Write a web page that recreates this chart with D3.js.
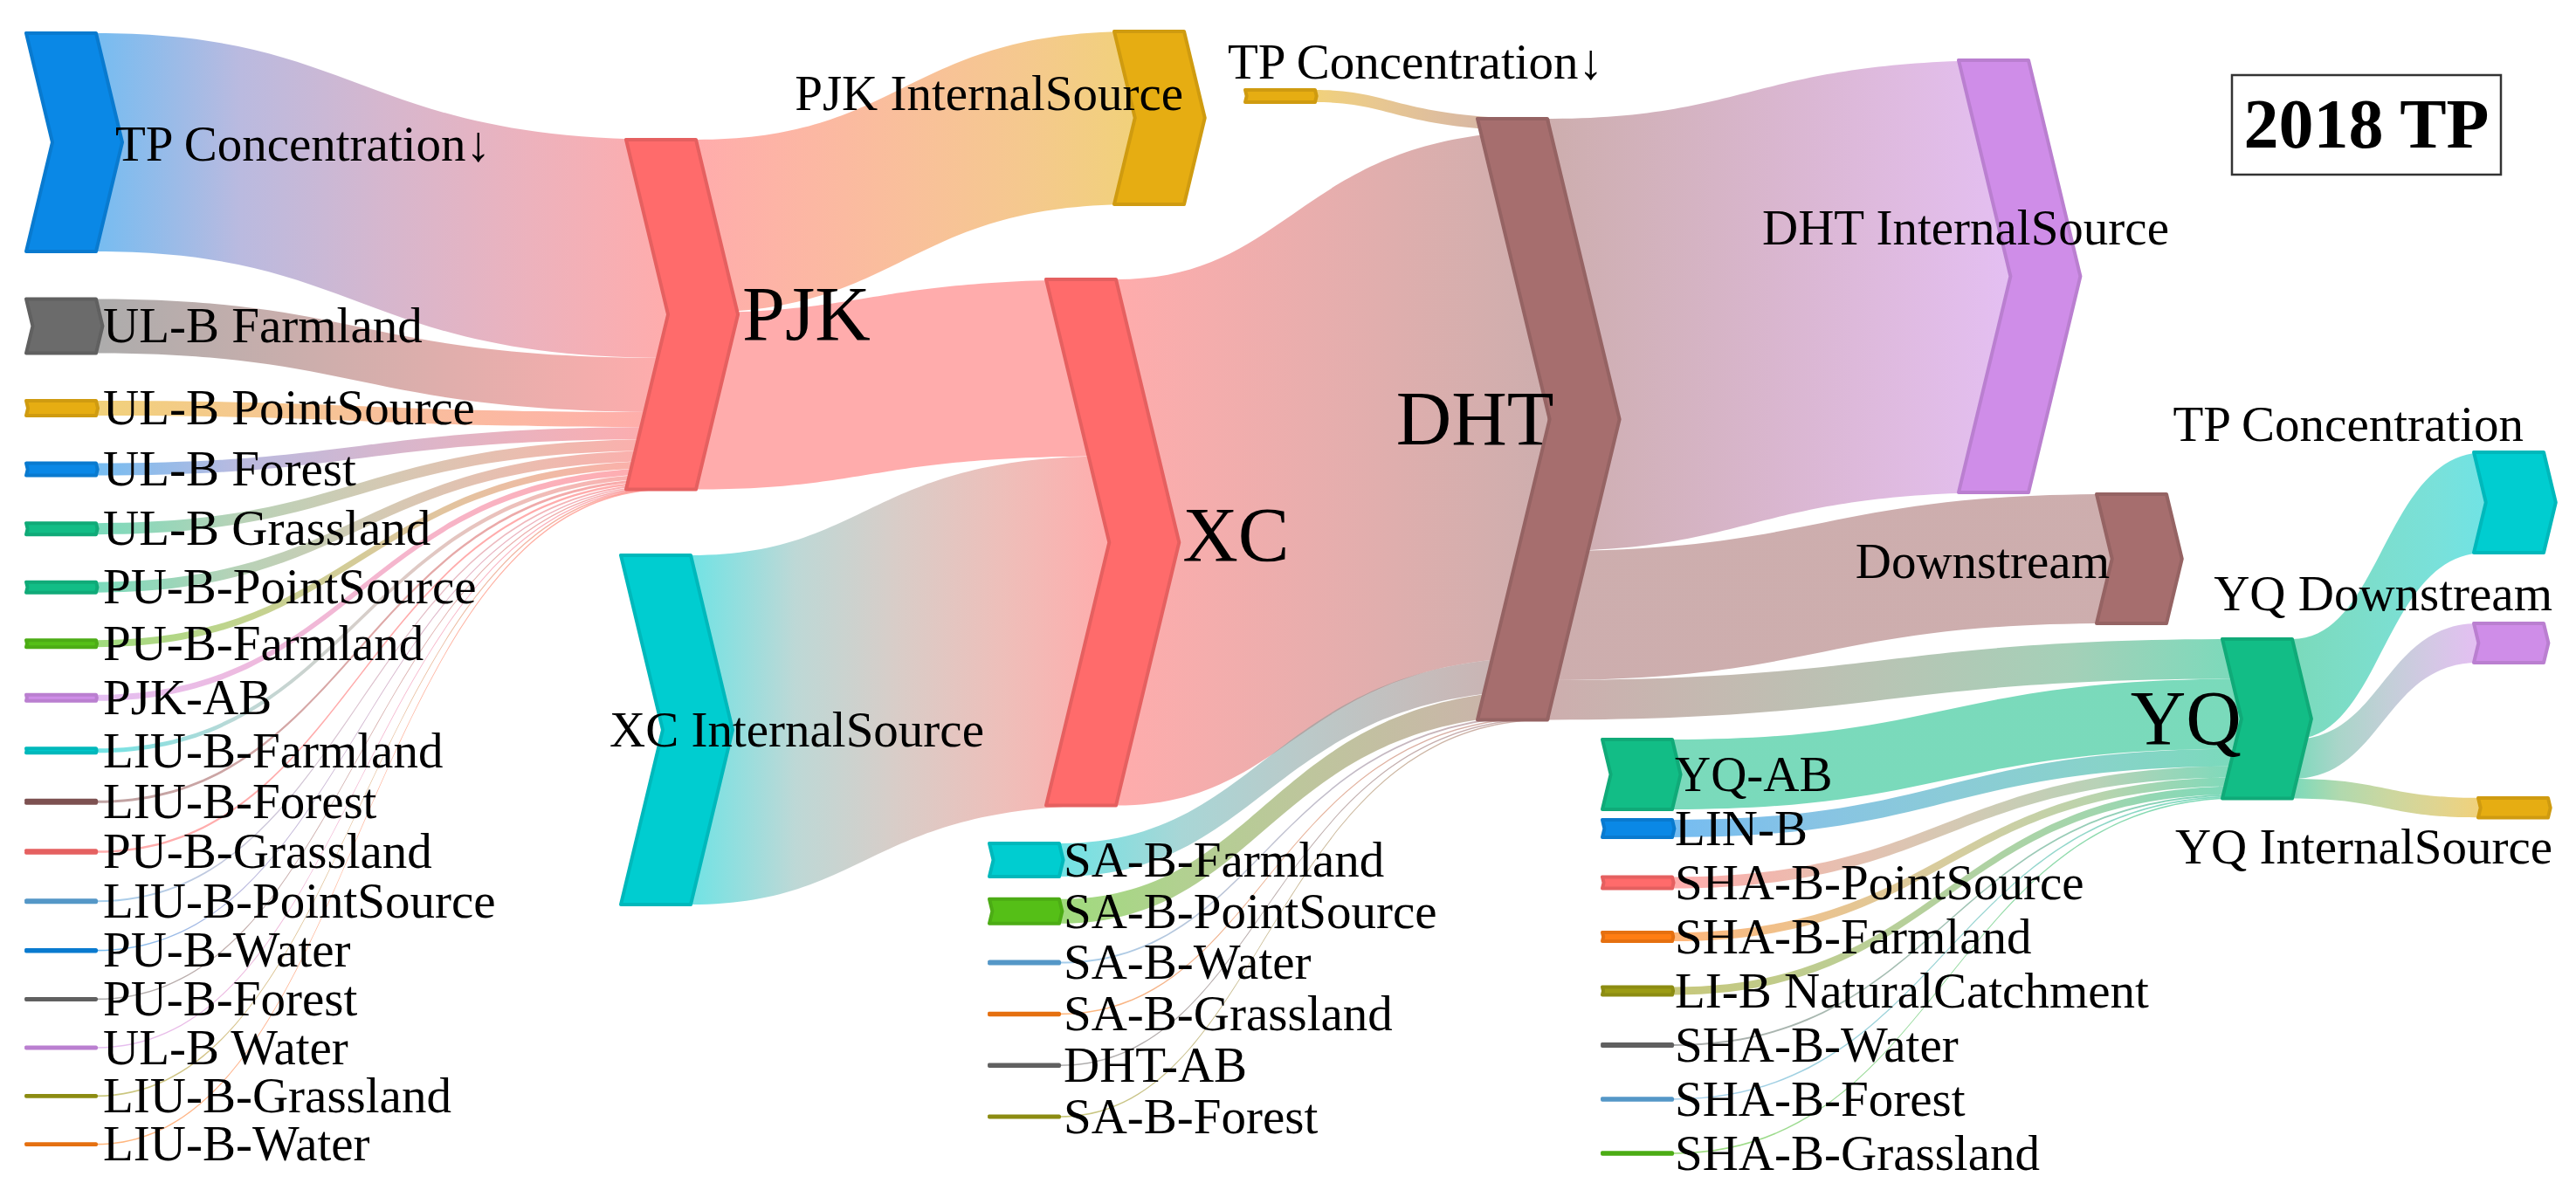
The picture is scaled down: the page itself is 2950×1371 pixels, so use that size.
<!DOCTYPE html>
<html><head><meta charset="utf-8">
<script src="https://cdn.jsdelivr.net/npm/d3@7"></script>
<style>html,body{margin:0;padding:0;background:#fff;} svg{display:block;}</style>
</head><body><svg id="chart" width="2950" height="1371"></svg>
<script>
// ---------------- DATA ----------------
const nodeIds = [
  "TPC_in","ULB_Farmland","ULB_PointSource","ULB_Forest","ULB_Grassland","PUB_PointSource","PUB_Farmland","PJK_AB",
  "LIUB_Farmland","LIUB_Forest","PUB_Grassland","LIUB_PointSource","PUB_Water","PUB_Forest","ULB_Water","LIUB_Grassland","LIUB_Water",
  "PJK","PJK_IS","XC_IS","XC","TPC_dht",
  "SAB_Farmland","SAB_PointSource","SAB_Water","SAB_Grassland","DHT_AB","SAB_Forest",
  "DHT","DHT_IS","Downstream",
  "YQ_AB","LIN_B","SHAB_PointSource","SHAB_Farmland","LIB_Natural","SHAB_Water","SHAB_Forest","SHAB_Grassland",
  "YQ","TPC_out","YQ_DS","YQ_IS"
];
const nodeLabels = [
  "TP Concentration↓","UL-B Farmland","UL-B PointSource","UL-B Forest","UL-B Grassland","PU-B-PointSource","PU-B-Farmland","PJK-AB",
  "LIU-B-Farmland","LIU-B-Forest","PU-B-Grassland","LIU-B-PointSource","PU-B-Water","PU-B-Forest","UL-B Water","LIU-B-Grassland","LIU-B-Water",
  "PJK","PJK InternalSource","XC InternalSource","XC","TP Concentration↓",
  "SA-B-Farmland","SA-B-PointSource","SA-B-Water","SA-B-Grassland","DHT-AB","SA-B-Forest",
  "DHT","DHT InternalSource","Downstream",
  "YQ-AB","LIN-B","SHA-B-PointSource","SHA-B-Farmland","LI-B NaturalCatchment","SHA-B-Water","SHA-B-Forest","SHA-B-Grassland",
  "YQ","TP Concentration","YQ Downstream","YQ InternalSource"
];
const linkSources = [
  "TPC_in","ULB_Farmland","ULB_PointSource","ULB_Forest","ULB_Grassland","PUB_PointSource","PUB_Farmland","PJK_AB",
  "LIUB_Farmland","LIUB_Forest","PUB_Grassland","LIUB_PointSource","PUB_Water","PUB_Forest","ULB_Water","LIUB_Grassland","LIUB_Water",
  "PJK","PJK","XC_IS",
  "TPC_dht","XC","SAB_Farmland","SAB_PointSource","SAB_Water","SAB_Grassland","DHT_AB","SAB_Forest",
  "DHT","DHT","DHT",
  "YQ_AB","LIN_B","SHAB_PointSource","SHAB_Farmland","LIB_Natural","SHAB_Water","SHAB_Forest","SHAB_Grassland",
  "YQ","YQ","YQ"
];
const linkTargets = [
  "PJK","PJK","PJK","PJK","PJK","PJK","PJK","PJK",
  "PJK","PJK","PJK","PJK","PJK","PJK","PJK","PJK","PJK",
  "PJK_IS","XC","XC",
  "DHT","DHT","DHT","DHT","DHT","DHT","DHT","DHT",
  "DHT_IS","Downstream","YQ",
  "YQ","YQ","YQ","YQ","YQ","YQ","YQ","YQ",
  "TPC_out","YQ_DS","YQ_IS"
];
const linkValues = [
  250, 62, 17, 14, 13, 12, 8, 7,
  5, 3, 2.5, 2, 1.5, 1, 1, 0.8, 0.7,
  198, 202.5, 400,
  14, 602.5, 38, 28, 2, 1.5, 1.5, 1,
  495, 148, 45.5,
  80, 20, 13, 10, 9, 2, 1.5, 1.5,
  115, 45, 22.5
];

// ---------------- STYLE / LAYOUT ----------------
const PAL = {blue:"#0a88e6", gray:"#6b6b6b", gold:"#e6ad12", green:"#12bd86", lime:"#55bf17", purple:"#cf8de8",
  cyan:"#00cdd0", brown:"#8b5a5a", dhtBrown:"#a66e6e", red:"#ff6b6b", lightblue:"#5ea8de", olive:"#9c9c14", orange:"#ff7d12"};
const nodeColorKeys = [
  "blue","gray","gold","blue","green","green","lime","purple",
  "cyan","brown","red","lightblue","blue","gray","purple","olive","orange",
  "red","gold","cyan","red","gold",
  "cyan","lime","lightblue","orange","gray","olive",
  "dhtBrown","purple","dhtBrown",
  "green","blue","red","orange","olive","gray","lightblue","lime",
  "green","cyan","purple","gold"
];
const W = 2950, H = 1371, NODE_W = 80, DEPTH = 0.12;
const FONT = "'Liberation Serif','Times New Roman',serif";
const GROUPS = [
  {x: 30, mode: "pad", top: 38, bottom: 1311, ids: nodeIds.slice(0,17), label:{anchor:"start", ref:"x1", dx:8}},
  {x: 1133, mode: "row", first: 985, last: 1279, ids: nodeIds.slice(22,28), label:{anchor:"start", ref:"x1", dx:5}},
  {x: 1835, mode: "row", first: 887, last: 1321, ids: nodeIds.slice(31,39), label:{anchor:"start", ref:"x1", dx:3}}
];
const SINGLE = {
  PJK:[717,160], PJK_IS:[1276,36], XC_IS:[711,636], XC:[1198,320], TPC_dht:[1426,103],
  DHT:[1692,136], DHT_IS:[2243,69], Downstream:[2401,566],
  YQ:[2545,732], TPC_out:[2833,518], YQ_DS:[2833,714], YQ_IS:[2838,914]
};
const LABELS = {
  TPC_in:{anchor:"start", ref:"tip", dx:-8, v:"center", dy:2},
  PJK:{anchor:"start", ref:"tip", dx:5, v:"center", dy:0, big:true},
  PJK_IS:{anchor:"end", ref:"x1", dx:-1, v:"center", dy:-28},
  TPC_dht:{anchor:"start", ref:"x0", dx:-20, v:"top", dy:-32},
  XC_IS:{anchor:"start", ref:"x0", dx:-13, v:"center", dy:0},
  XC:{anchor:"start", ref:"tip", dx:4, v:"center", dy:-8, big:true},
  DHT:{anchor:"end", ref:"notch", dx:5, v:"center", dy:0, big:true},
  DHT_IS:{anchor:"middle", ref:"xmid", dx:-32, v:"center", dy:-55},
  Downstream:{anchor:"end", ref:"x0", dx:15, v:"center", dy:3},
  YQ:{anchor:"end", ref:"notch", dx:0, v:"center", dy:0, big:true},
  TPC_out:{anchor:"end", ref:"x1", dx:-23, v:"top", dy:-32},
  YQ_DS:{anchor:"end", ref:"x1", dx:10, v:"top", dy:-34},
  YQ_IS:{anchor:"end", ref:"x1", dx:5, v:"bottom", dy:34}
};

// ---------------- BUILD ----------------
const svg = d3.select("#chart");
svg.append("rect").attr("width", W).attr("height", H).attr("fill", "#fff");

const nodes = nodeIds.map((id, i) => ({id, label: nodeLabels[i], color: PAL[nodeColorKeys[i]], inLinks: [], outLinks: []}));
const byId = new Map(nodes.map(n => [n.id, n]));
const links = linkValues.map((v, i) => ({source: byId.get(linkSources[i]), target: byId.get(linkTargets[i]), value: v}));
links.forEach(l => { l.source.outLinks.push(l); l.target.inLinks.push(l); });

const dhtTotal = d3.sum(links.filter(l => l.target.id === "DHT"), l => l.value);
const vScale = d3.scaleLinear().domain([0, dhtTotal]).range([0, dhtTotal]); // 1 unit = 1 px

nodes.forEach(n => {
  n.value = Math.max(d3.sum(n.inLinks, l => l.value), d3.sum(n.outLinks, l => l.value));
  n.h = vScale(n.value);
});
GROUPS.forEach(g => {
  const ns = g.ids.map(id => byId.get(id));
  if (g.mode === "pad") {
    const pad = (g.bottom - g.top - d3.sum(ns, n => n.h)) / (ns.length - 1);
    let y = g.top;
    ns.forEach(n => { n.x0 = g.x; n.y0 = y; y += n.h + pad; n.lab = g.label; });
  } else {
    const c = d3.scaleLinear().domain([0, ns.length - 1]).range([g.first, g.last]);
    ns.forEach((n, i) => { n.x0 = g.x; n.y0 = c(i) - n.h / 2; n.lab = g.label; });
  }
});
Object.entries(SINGLE).forEach(([id, p]) => { const n = byId.get(id); n.x0 = p[0]; n.y0 = p[1]; });
nodes.forEach(n => {
  n.x1 = n.x0 + NODE_W; n.y1 = n.y0 + n.h; n.d = n.h * DEPTH;
  if (LABELS[n.id]) n.lab = LABELS[n.id];
});
nodes.forEach(n => {
  n.outLinks.sort((a, b) => (a.target.y0 + a.target.y1) - (b.target.y0 + b.target.y1));
  let y = n.y0;
  n.outLinks.forEach(l => { l.sy0 = y; y += vScale(l.value); l.sy1 = y; });
  n.inLinks.sort((a, b) => (a.source.y0 + a.source.y1) - (b.source.y0 + b.source.y1));
  y = n.y0;
  n.inLinks.forEach(l => { l.ty0 = y; y += vScale(l.value); l.ty1 = y; });
});

// gradients (Lab interpolation between source and target colours)
const defs = svg.append("defs");
links.forEach((l, i) => {
  l.xs = l.source.x1; l.xt = l.target.x0 + l.target.d;
  const g = defs.append("linearGradient").attr("id", "lg" + i).attr("gradientUnits", "userSpaceOnUse")
    .attr("x1", l.xs).attr("x2", l.xt).attr("y1", 0).attr("y2", 0);
  const interp = d3.interpolateLab(l.source.color, l.target.color);
  [0, 0.25, 0.5, 0.75, 1].forEach(t => {
    g.append("stop").attr("offset", (t * 100) + "%").attr("stop-color", interp(t));
  });
});

function band(l) {
  const x0 = l.xs, x1 = l.xt, xm = (l.source.x1 + l.target.x0) / 2;
  let s0 = l.sy0, s1 = l.sy1, t0 = l.ty0, t1 = l.ty1;
  const minW = 1.6;
  if (s1 - s0 < minW) {
    const c = (s0 + s1) / 2, c2 = (t0 + t1) / 2;
    s0 = c - minW / 2; s1 = c + minW / 2; t0 = c2 - minW / 2; t1 = c2 + minW / 2;
  }
  const p = d3.path();
  p.moveTo(x0, s0); p.bezierCurveTo(xm, s0, xm, t0, x1, t0);
  p.lineTo(x1, t1); p.bezierCurveTo(xm, t1, xm, s1, x0, s1); p.closePath();
  return p.toString();
}

svg.append("g").selectAll("path").data(links).join("path")
  .attr("d", band)
  .attr("fill", (l, i) => `url(#lg${i})`)
  .attr("fill-opacity", 0.56);

const chevron = d3.line();
svg.append("g").selectAll("path").data(nodes).join("path")
  .attr("d", n => {
    const ym = (n.y0 + n.y1) / 2;
    return chevron([[n.x0, n.y0], [n.x1, n.y0], [n.x1 + n.d, ym], [n.x1, n.y1], [n.x0, n.y1], [n.x0 + n.d, ym]]) + "Z";
  })
  .attr("fill", n => n.color)
  .attr("stroke", n => d3.color(n.color).darker(0.3))
  .attr("stroke-width", 4)
  .attr("stroke-linejoin", "round");

// labels
svg.append("g").selectAll("text").data(nodes).join("text")
  .attr("font-family", FONT)
  .attr("font-size", n => n.lab.big ? 88 : 57)
  .attr("fill", "#000")
  .attr("text-anchor", n => n.lab.anchor)
  .attr("x", n => {
    const L = n.lab;
    const base = L.ref === "x1" ? n.x1 : L.ref === "x0" ? n.x0 : L.ref === "tip" ? n.x1 + n.d :
                 L.ref === "notch" ? n.x0 + n.d : (n.x0 + n.x1) / 2;
    return base + (L.dx || 0);
  })
  .attr("y", n => {
    const L = n.lab;
    const base = L.v === "top" ? n.y0 : L.v === "bottom" ? n.y1 : (n.y0 + n.y1) / 2;
    return base + (L.dy || 0);
  })
  .attr("dy", "0.33em")
  .text(n => n.label);

// title box
const tb = svg.append("g");
tb.append("rect").attr("x", 2556).attr("y", 86).attr("width", 308).attr("height", 114)
  .attr("fill", "#fff").attr("stroke", "#333").attr("stroke-width", 2.5);
tb.append("text").attr("x", 2710).attr("y", 143).attr("dy", "0.33em")
  .attr("text-anchor", "middle").attr("font-family", FONT).attr("font-weight", "bold")
  .attr("font-size", 80).text("2018 TP");
</script>
</body></html>
